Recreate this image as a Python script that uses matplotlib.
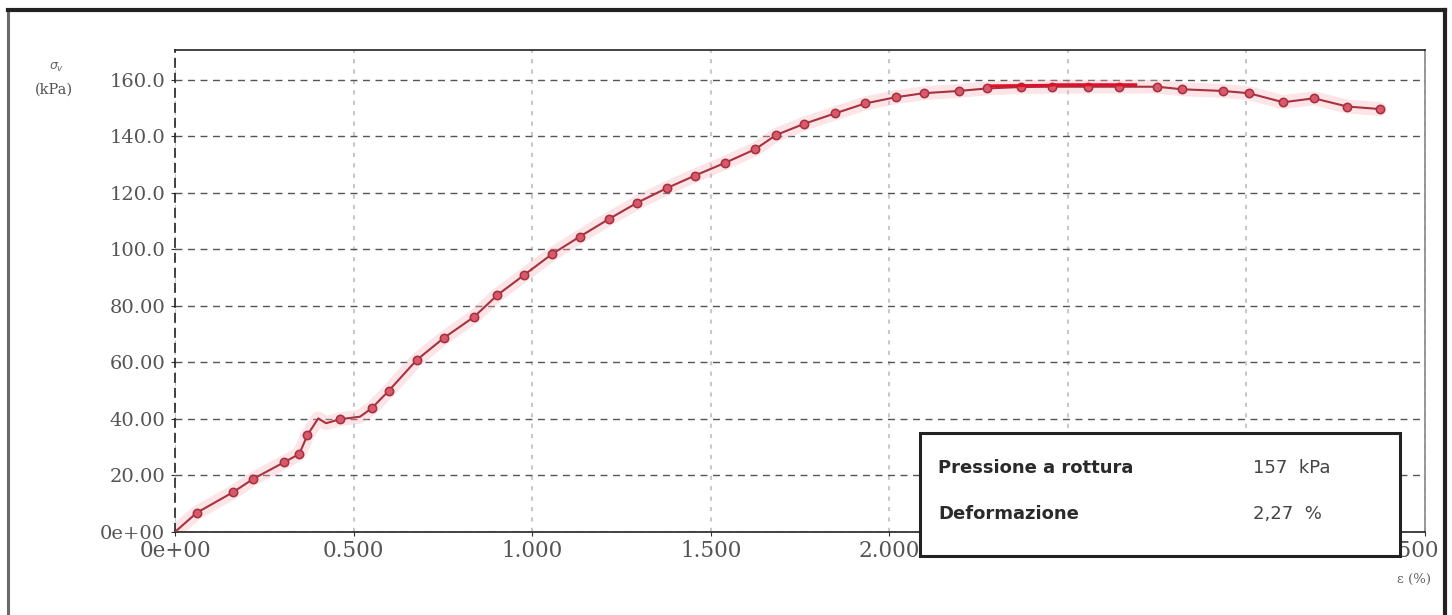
import numpy as np
import matplotlib
matplotlib.use('Agg')
import matplotlib.pyplot as plt
import matplotlib.transforms as mtransforms
from matplotlib.patches import Rectangle
from matplotlib.lines import Line2D

# deformazione (%) e tensione (kPa)
eps = [0, 0.061, 0.163, 0.219, 0.306, 0.348, 0.371, 0.401, 0.423, 0.462, 0.518,
       0.551, 0.598, 0.677, 0.752, 0.838, 0.903, 0.978, 1.055, 1.133, 1.214,
       1.295, 1.377, 1.455, 1.541, 1.625, 1.683, 1.760, 1.849, 1.933, 2.019,
       2.096, 2.194, 2.275, 2.370, 2.455, 2.557, 2.642, 2.750, 2.820, 2.935,
       3.007, 3.103, 3.189, 3.282, 3.373]
sig = [0, 6.8, 14.1, 18.8, 24.7, 27.6, 34.3, 40.2, 38.5, 39.9, 40.8,
       43.8, 49.9, 60.9, 68.6, 76.2, 83.9, 91.0, 98.3, 104.5, 110.7,
       116.6, 121.7, 126.1, 130.7, 135.5, 140.5, 144.4, 148.2, 151.7, 153.9,
       155.3, 156.1, 157.0, 157.5, 157.6, 157.6, 157.6, 157.6, 156.7, 156.1,
       155.3, 152.1, 153.5, 150.6, 149.7]
no_marker = [0, 7, 8, 10]  # punti senza simbolo

# tratto evidenziato vicino al picco
peak_eps = [2.285, 2.45, 2.46, 2.69]
peak_sig = [157.9, 158.1, 158.3, 158.3]

xticks = [0, 0.5, 1.0, 1.5, 2.0, 2.5, 3.0, 3.5]
xticklabels = ['0e+00', '0.500', '1.000', '1.500', '2.000', '2.500', '3.000', '3.500']
yticks = [0, 20, 40, 60, 80, 100, 120, 140, 160]
yticklabels = ['0e+00', '20.00', '40.00', '60.00', '80.00', '100.0', '120.0', '140.0', '160.0']

res_labels = ['Pressione a rottura', 'Deformazione']
res_values = ['157  kPa', '2,27  %']


def main():
    fig = plt.figure(figsize=(14.52, 6.15), dpi=100)
    ax = fig.add_axes([0.1205, 0.135, 0.8609, 0.7837])

    marks = [i for i in range(len(eps)) if i not in no_marker]
    ax.plot(eps, sig, color='#f7b3bd', lw=10, alpha=0.35, solid_capstyle='round', zorder=2)
    ax.plot(eps, sig, color='#a8323f', lw=1.5, zorder=3,
            marker='o', markevery=marks, markersize=6,
            markerfacecolor='#d9586a', markeredgecolor='#a3303f', markeredgewidth=1.1)
    ax.plot(peak_eps, peak_sig, color='#e0102a', lw=2.2, zorder=4)

    ax.set_xlim(0, 3.5)
    ax.set_ylim(0, 170.6)
    ax.set_xticks(xticks)
    ax.set_xticklabels(xticklabels)
    ax.set_yticks(yticks)
    ax.set_yticklabels(yticklabels)
    ax.tick_params(axis='both', labelcolor='#555555', length=3, color='#333333')
    ax.tick_params(axis='y', labelsize=14, pad=4)
    ax.tick_params(axis='x', labelsize=15.5, pad=3)
    for lab in ax.get_xticklabels() + ax.get_yticklabels():
        lab.set_family('DejaVu Serif')
    # ultima etichetta x spostata per restare dentro la cornice
    last = ax.get_xticklabels()[-1]
    last.set_horizontalalignment('right')
    last.set_transform(last.get_transform() +
                       mtransforms.ScaledTranslation(14 / 100, 0, fig.dpi_scale_trans))

    ax.yaxis.grid(True, linestyle=(0, (5, 4)), color='#555555', lw=1.0)
    ax.xaxis.grid(True, linestyle=(0, (2, 3)), color='#c8c8c8', lw=1.5)

    ax.spines['left'].set_linestyle((0, (5, 4)))
    ax.spines['left'].set_color('#222222')
    ax.spines['top'].set_color('#222222')
    ax.spines['bottom'].set_color('#222222')
    ax.spines['right'].set_color('#888888')
    for s in ax.spines.values():
        s.set_linewidth(1.2)

    # etichette assi
    fig.text(0.034, 0.887, r'$\sigma_v$', fontsize=9, color='#666666', family='DejaVu Serif')
    fig.text(0.024, 0.848, '(kPa)', fontsize=10.5, color='#555555', family='DejaVu Serif')
    fig.text(0.962, 0.052, 'ε (%)', fontsize=9.5, color='#666666', family='DejaVu Serif')

    # riquadro risultati
    box = Rectangle((920 / 1452, 1 - 556 / 615), 480 / 1452, 123 / 615,
                    transform=fig.transFigure, facecolor='white', edgecolor='#222222',
                    lw=2.2, zorder=10)
    fig.add_artist(box)
    ys = [1 - 468 / 615, 1 - 514 / 615]
    for lab, val, y in zip(res_labels, res_values, ys):
        fig.text(938 / 1452, y, lab, fontsize=13, fontweight='bold', color='#2a2a2a',
                 va='center', zorder=11)
        fig.text(1253 / 1452, y, val, fontsize=13, color='#444444',
                 va='center', zorder=11)

    # cornice esterna
    fig.add_artist(Line2D([8 / 1452, 8 / 1452], [0, 1 - 10 / 615], transform=fig.transFigure,
                          color='#6a6a6a', lw=2.2))
    fig.add_artist(Line2D([8 / 1452, 1445 / 1452], [1 - 10 / 615, 1 - 10 / 615],
                          transform=fig.transFigure, color='#222222', lw=3))
    fig.add_artist(Line2D([1445 / 1452, 1445 / 1452], [0, 1 - 10 / 615],
                          transform=fig.transFigure, color='#222222', lw=3))

    fig.savefig('out.png', dpi=100)


if __name__ == "__main__":
    main()
